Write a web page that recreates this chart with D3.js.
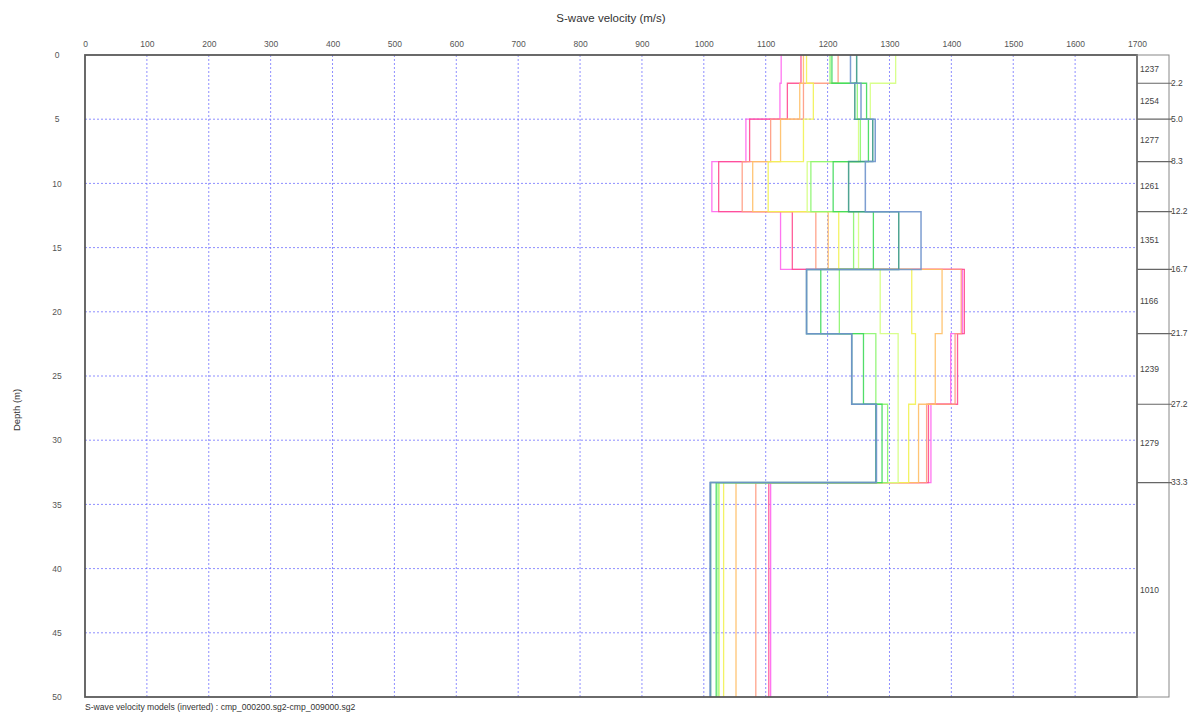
<!DOCTYPE html>
<html>
<head>
<meta charset="utf-8">
<script src="https://cdn.jsdelivr.net/npm/d3@7"></script>
<style>
  html, body { margin: 0; padding: 0; background: #fff; }
  svg { display: block; font-family: "Liberation Sans", Arial, sans-serif; }
</style>
</head>
<body>
<svg id="chart" width="1188" height="713"></svg>
<script>
// ---- data ----
const layerBounds = [2.2, 5.0, 8.3, 12.2, 16.7, 21.7, 27.2, 33.3];
const layerLabels = ["1237", "1254", "1277", "1261", "1351", "1166", "1239", "1279", "1010"];
const boundLabels = ["2.2", "5.0", "8.3", "12.2", "16.7", "21.7", "27.2", "33.3"];
const xTicks = [0, 100, 200, 300, 400, 500, 600, 700, 800, 900, 1000, 1100, 1200, 1300, 1400, 1500, 1600, 1700];
const yTicks = [0, 5, 10, 15, 20, 25, 30, 35, 40, 45, 50];
const profileNames = ["magenta", "red", "salmon", "orange", "yellow", "yellowgreen", "lightgreen", "green", "teal", "blue"];
const vMagenta     = [1125, 1123, 1068, 1013, 1124, 1418, 1399, 1367, 1108];
const vRed         = [1157, 1135, 1074, 1024, 1143, 1421, 1410, 1363, 1105];
const vSalmon      = [1217, 1161, 1108, 1062, 1181, 1416, 1406, 1360, 1084];
const vOrange      = [1161, 1155, 1124, 1079, 1201, 1385, 1374, 1347, 1052];
const vYellow      = [1166, 1177, 1161, 1104, 1218, 1336, 1342, 1331, 1032];
const vYellowGreen = [1310, 1269, 1250, 1167, 1250, 1285, 1314, 1314, 1025];
const vLightGreen  = [1204, 1248, 1253, 1173, 1242, 1219, 1278, 1297, 1023];
const vGreen       = [1207, 1263, 1266, 1209, 1274, 1189, 1258, 1288, 1020];
const vTeal        = [1247, 1244, 1273, 1234, 1315, 1166, 1239, 1278, 1011];
const vBlue        = [1237, 1254, 1277, 1261, 1351, 1166, 1239, 1279, 1010];
const profileValues = [vMagenta, vRed, vSalmon, vOrange, vYellow, vYellowGreen, vLightGreen, vGreen, vTeal, vBlue];
const profileColors = ["#ff66ee", "#ff4d8f", "#ff9a80", "#ffbf66", "#f2f255", "#d4ff80", "#8cf56e", "#3fd95a", "#3c9a86", "#6f93cc"];
const depthMax = 50;

// ---- layout ----
const svg = d3.select("#chart");
const L = 85, R = 1137, T = 55, B = 697;
const x = d3.scaleLinear().domain([0, 1700]).range([L, R]);
const y = d3.scaleLinear().domain([0, depthMax]).range([T, B]);
const fontFam = "Liberation Sans, Arial, sans-serif";

// grid
const grid = svg.append("g");
grid.selectAll("line.gx").data(xTicks.filter(d => d > 0 && d < 1700)).join("line")
  .attr("x1", d => x(d)).attr("x2", d => x(d)).attr("y1", T).attr("y2", B)
  .attr("stroke", "#6a6aff").attr("stroke-width", 1).attr("stroke-dasharray", "2,2").attr("opacity", 0.75);
grid.selectAll("line.gy").data(yTicks.filter(d => d > 0 && d < depthMax)).join("line")
  .attr("x1", L).attr("x2", R).attr("y1", d => y(d)).attr("y2", d => y(d))
  .attr("stroke", "#6a6aff").attr("stroke-width", 1).attr("stroke-dasharray", "2,2").attr("opacity", 0.75);

// axes labels via d3 axes
const xAxis = svg.append("g").attr("transform", `translate(0,${T - 5})`)
  .call(d3.axisTop(x).tickValues(xTicks).tickSize(0).tickFormat(d3.format("d")));
xAxis.select(".domain").remove();
xAxis.selectAll("text").attr("font-size", 8.5).attr("fill", "#555").attr("font-family", fontFam);

const yAxis = svg.append("g").attr("transform", `translate(${L - 25},0)`)
  .call(d3.axisLeft(y).tickValues(yTicks).tickSize(0).tickFormat(d3.format("d")));
yAxis.select(".domain").remove();
yAxis.selectAll("text").attr("font-size", 8.5).attr("fill", "#555").attr("text-anchor", "middle")
  .attr("font-family", fontFam);

// profiles
function profilePoints(vals) {
  const depths = [0, ...layerBounds, depthMax];
  const pts = [];
  vals.forEach((v, i) => {
    pts.push([x(v), y(depths[i])]);
    pts.push([x(v), y(depths[i + 1])]);
  });
  return pts;
}
const line = d3.line();
svg.append("g").selectAll("path").data(profileValues).join("path")
  .attr("d", d => line(profilePoints(d)))
  .attr("fill", "none")
  .attr("stroke", (d, i) => profileColors[i])
  .attr("stroke-width", (d, i) => (i >= 8 ? 1.5 : 1.3))
  .attr("opacity", 0.9);

// plot frame
svg.append("rect").attr("x", L).attr("y", T).attr("width", R - L).attr("height", B - T)
  .attr("fill", "none").attr("stroke", "#5a5a5a").attr("stroke-width", 1.8);

// right layer column
const colR = 1169;
svg.append("rect").attr("x", R).attr("y", T).attr("width", colR - R).attr("height", B - T)
  .attr("fill", "none").attr("stroke", "#888").attr("stroke-width", 1);
svg.append("g").selectAll("line").data(layerBounds).join("line")
  .attr("x1", R).attr("x2", colR + 3).attr("y1", d => y(d)).attr("y2", d => y(d))
  .attr("stroke", "#666").attr("stroke-width", 1.2);
svg.append("g").selectAll("text").data(boundLabels).join("text")
  .attr("x", colR + 2).attr("y", (d, i) => y(layerBounds[i]))
  .attr("dy", "0.3em").attr("font-size", 8.5).attr("fill", "#444").text(d => d);
const mids = layerLabels.map((d, i) => {
  const top = i === 0 ? 0 : layerBounds[i - 1];
  const bot = i < layerBounds.length ? layerBounds[i] : depthMax;
  return (top + bot) / 2;
});
svg.append("g").selectAll("text").data(layerLabels).join("text")
  .attr("x", R + 3).attr("y", (d, i) => y(mids[i]))
  .attr("dy", "0.33em").attr("font-size", 8.5).attr("fill", "#444").text(d => d);

// titles
svg.append("text").attr("x", (L + R) / 2).attr("y", 22).attr("text-anchor", "middle")
  .attr("font-size", 11.5).attr("fill", "#333").text("S-wave velocity (m/s)");
svg.append("text").attr("transform", `translate(20,${(T + B) / 2 + 34}) rotate(-90)`)
  .attr("text-anchor", "middle").attr("font-size", 9.5).attr("fill", "#333").text("Depth (m)");
svg.append("text").attr("x", L).attr("y", 710)
  .attr("font-size", 8.6).attr("fill", "#333").text("S-wave velocity models (inverted) : cmp_000200.sg2-cmp_009000.sg2");
</script>
</body>
</html>
